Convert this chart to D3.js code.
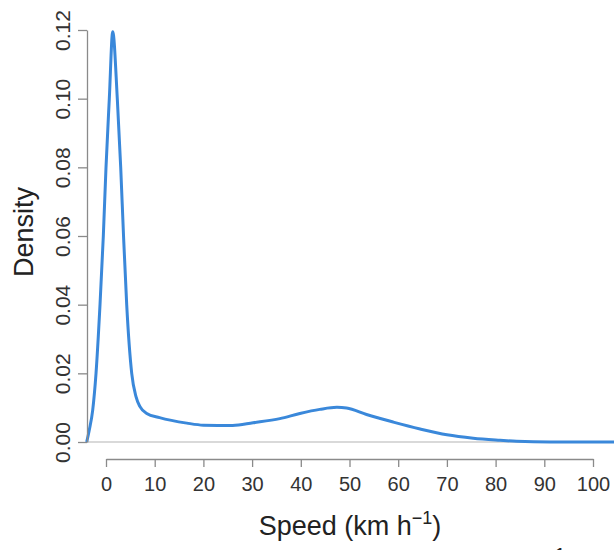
<!DOCTYPE html>
<html>
<head>
<meta charset="utf-8">
<script src="https://cdn.jsdelivr.net/npm/d3@7"></script>
<style>
  body { margin: 0; background: #fff; }
  svg { display: block; font-family: "Liberation Sans", Arial, sans-serif; }
  .axis path, .axis line { stroke: #8a8a8a; stroke-width: 1.3; }
  .axis text { fill: #333; }
</style>
</head>
<body>
<div id="chart"></div>
<script>
// -------- DATA --------
const speed = [-3.96, -3.43, -2.73, -2.05, -1.23, -0.55, 0, 0.68, 1.38,
  2.32, 3.02, 3.6, 4.25, 5.28, 6.16, 6.98, 8.36, 11, 16.6, 20, 26, 30.2,
  35.7, 39.8, 43.9, 47.4, 49.4, 53.5, 59, 64.5, 70, 75.4, 80.9, 84.3, 91.2, 104.5];
const density = [0, 0.0035, 0.0093, 0.02, 0.04, 0.06, 0.08, 0.10, 0.1195,
  0.10, 0.08, 0.06, 0.04, 0.02, 0.0132, 0.0103, 0.0083, 0.0071, 0.0055, 0.0049, 0.0048, 0.0056,
  0.0068, 0.0083, 0.0095, 0.0101, 0.0099, 0.0080, 0.0058, 0.0038, 0.0021, 0.0011, 0.0005, 0.0002, 0, 0];

const xTicks = [0, 10, 20, 30, 40, 50, 60, 70, 80, 90, 100];
const yTicks = [0, 0.02, 0.04, 0.06, 0.08, 0.10, 0.12];

// -------- LAYOUT --------
const width = 614, height = 550;
const plotLeft = 87;      // y axis position
const xAxisY = 459;       // x axis position

const x = d3.scaleLinear().domain([0, 100]).range([106, 593]);
const y = d3.scaleLinear().domain([0, 0.12]).range([442, 30]);

const svg = d3.select("#chart").append("svg")
  .attr("width", width)
  .attr("height", height);

// grey zero line
svg.append("line")
  .attr("x1", plotLeft).attr("x2", width)
  .attr("y1", y(0)).attr("y2", y(0))
  .attr("stroke", "#d9d9d9")
  .attr("stroke-width", 2);

// density curve
const pts = speed.map((s, i) => [s, density[i]]);
svg.append("path")
  .datum(pts)
  .attr("fill", "none")
  .attr("stroke", "#3a88da")
  .attr("stroke-width", 3)
  .attr("stroke-linejoin", "round")
  .attr("d", d3.line()
    .x(d => x(d[0]))
    .y(d => y(d[1]))
    .curve(d3.curveMonotoneX));

// x axis
const xAxisG = svg.append("g")
  .attr("class", "axis")
  .attr("transform", `translate(0,${xAxisY})`)
  .call(d3.axisBottom(x).tickValues(xTicks).tickSize(8).tickSizeOuter(0).tickPadding(10));
xAxisG.selectAll(".tick text").style("font-size", "20px");

// y axis
const yAxisG = svg.append("g")
  .attr("class", "axis")
  .attr("transform", `translate(${plotLeft},0)`)
  .call(d3.axisLeft(y).tickValues(yTicks).tickSize(9).tickSizeOuter(0)
    .tickFormat(d3.format(".2f")));
yAxisG.selectAll(".tick text")
  .style("font-size", "21px")
  .attr("x", null).attr("dy", null)
  .attr("text-anchor", "middle")
  .attr("transform", "translate(-17,0) rotate(-90)");

// axis titles
const xTitle = svg.append("text")
  .attr("x", 350)
  .attr("y", 535)
  .attr("text-anchor", "middle")
  .attr("fill", "#222")
  .style("font-size", "27px");
xTitle.append("tspan").text("Speed (km h");
xTitle.append("tspan").attr("dy", -11).style("font-size", "18px").text("\u22121");
xTitle.append("tspan").attr("dy", 11).text(")");

svg.append("text")
  .attr("transform", "translate(33,232) rotate(-90)")
  .attr("text-anchor", "middle")
  .attr("fill", "#222")
  .style("font-size", "27px")
  .text("Density");

// cropped superscript at bottom edge
svg.append("text")
  .attr("x", 560)
  .attr("y", 562)
  .attr("text-anchor", "middle")
  .attr("fill", "#222")
  .style("font-size", "20px")
  .text("1");
</script>
</body>
</html>
